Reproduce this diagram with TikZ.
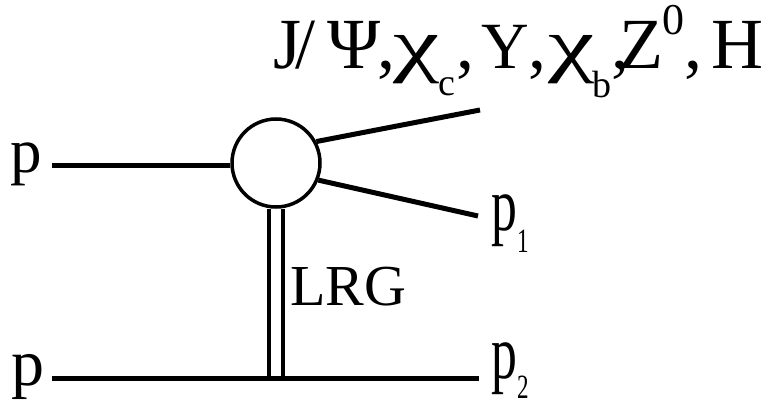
\documentclass[tikz,border=0pt]{standalone}
\usepackage{graphicx}
\usepackage{fontspec}
\setmainfont{Liberation Serif}
\newcommand{\fsz}[1]{\fontsize{#1}{#1}\selectfont}
\newcommand{\putat}[2]{\makebox[0pt][l]{\hspace*{#1pt}#2}}
\newcommand{\lowr}[3]{\raisebox{#1pt}{\fsz{#2}#3}}
\newcommand{\wchi}{\scalebox{1.45}[1]{χ}}
\begin{document}
\begin{tikzpicture}[x=1pt,y=-1pt,
  line/.style={line width=5pt},
  rail/.style={line width=3.8pt},
  lbl/.style={inner sep=0pt,anchor=base west}]
\useasboundingbox (0,0) rectangle (773,404);
\node[circle,draw,line width=3.5pt,minimum size=88pt,inner sep=0pt] (blob) at (276,163) {};
\coordinate (pin) at (52,165);
\coordinate (out1) at (480,110);
\coordinate (out2) at (478,216);
\coordinate (bl) at (52,378);
\coordinate (br) at (479,378);
\coordinate (v1) at (269,378);
\coordinate (v2) at (283,378);
\draw[line] (pin) -- (blob.west |- pin);
\draw[line] (blob.{28}) -- (out1);
\draw[line] (blob.{-22}) -- (out2);
\draw[line] (bl) -- (br);
\draw[rail] (v1 |- blob.south) -- (v1);
\draw[rail] (v2 |- blob.south) -- (v2);
\node[lbl,font=\fsz{63}] (pa) at (10,172) {p};
\node[lbl,font=\fsz{66}] (pb) at (11,385) {p};
\node[lbl,font=\fsz{58}] (lrg) at (290,305) {LRG};
\node[lbl,font=\fsz{76}] (p1) at (491,230) {\scalebox{0.68}[1]{p\lowr{-22}{34}{1}}};
\node[lbl,font=\fsz{76}] (p2) at (491,378) {\scalebox{0.68}[1]{p\lowr{-20}{34}{2}}};
\node[lbl,font=\fsz{72}] (top) at (273,68) {\hbox to 490pt{%
\putat{0}{J}\putat{22}{/}\putat{54}{Ψ}\putat{104}{,}%
\putat{120}{\wchi}\putat{165}{\lowr{-27}{38}{c}}\putat{183}{,}%
\putat{208}{\fsz{66}Υ}\putat{255}{,}%
\putat{275}{\wchi}\putat{319}{\lowr{-29}{38}{b}}\putat{338}{,}%
\putat{346}{Z}\putat{389}{\lowr{33}{44}{0}}\putat{411}{,}%
\putat{438}{H}\hfil}};
\end{tikzpicture}
\end{document}
